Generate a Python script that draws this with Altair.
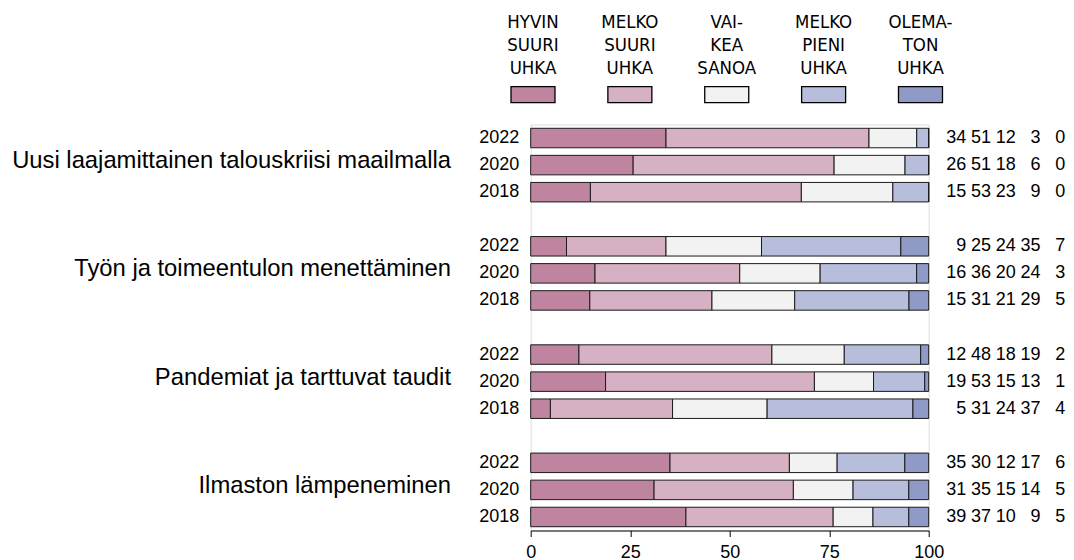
import altair as alt
import pandas as pd

topics = [
    "Uusi laajamittainen talouskriisi maailmalla",
    "Työn ja toimeentulon menettäminen",
    "Pandemiat ja tarttuvat taudit",
    "Ilmaston lämpeneminen",
]
years = ["2022", "2020", "2018"]
cats = ["HYVIN SUURI UHKA", "MELKO SUURI UHKA", "VAIKEA SANOA", "MELKO PIENI UHKA", "OLEMATON UHKA"]
cat_lines = ["HYVIN\nSUURI\nUHKA", "MELKO\nSUURI\nUHKA", "VAI-\nKEA\nSANOA", "MELKO\nPIENI\nUHKA", "OLEMA-\nTON\nUHKA"]
colors = ["#bf85a0", "#d6b0c3", "#f2f2f2", "#b7bedb", "#8f9ac7"]

# rows in order: topic x year (2022, 2020, 2018)
hyvin_suuri = [34, 26, 15, 9, 16, 15, 12, 19, 5, 35, 31, 39]
melko_suuri = [51, 51, 53, 25, 36, 31, 48, 53, 31, 30, 35, 37]
vaikea_sanoa = [12, 18, 23, 24, 20, 21, 18, 15, 24, 12, 15, 10]
melko_pieni = [3, 6, 9, 35, 24, 29, 19, 13, 37, 17, 14, 9]
olematon = [0, 0, 0, 7, 3, 5, 2, 1, 4, 6, 5, 5]
series = [hyvin_suuri, melko_suuri, vaikea_sanoa, melko_pieni, olematon]

rows = []
for gi, topic in enumerate(topics):
    for yi, yr in enumerate(years):
        idx = gi * 3 + yi
        key = f"{gi}|{yr}"
        for ci, (cat, arr) in enumerate(zip(cats, series)):
            rows.append(dict(key=key, topic=topic, year=yr, cat=cat, order=ci, value=arr[idx]))
df = pd.DataFrame(rows)

ydomain = []
for gi in range(len(topics)):
    ydomain += [f"{gi}|{yr}" for yr in years]
    if gi < len(topics) - 1:
        ydomain.append(f"gap{gi}")

yscale = alt.Scale(domain=ydomain, paddingInner=0.28, paddingOuter=0.14)
FONT = "Liberation Sans"

bars = alt.Chart(df).transform_joinaggregate(
    total="sum(value)", groupby=["key"]
).transform_calculate(
    pct="100*datum.value/datum.total"
).mark_bar(stroke="#1a1a1a", strokeWidth=1).encode(
    x=alt.X("pct:Q", stack="zero",
            scale=alt.Scale(domain=[0, 100], nice=False),
            axis=alt.Axis(values=[0, 25, 50, 75, 100], title=None, grid=False,
                          tickSize=6, labelPadding=7, labelFontSize=18,
                          domainColor="black", tickColor="black", labelColor="black",
                          labelFlush=False, domainWidth=1, tickWidth=1, labelFont=FONT)),
    y=alt.Y("key:N", scale=yscale, sort=ydomain,
            axis=alt.Axis(title=None, ticks=False, tickSize=0, domain=False,
                          labelExpr="indexof(datum.value,'|')>=0 ? split(datum.value,'|')[1] : ''",
                          labelFontSize=18, labelPadding=12, labelColor="black", labelFont=FONT)),
    color=alt.Color("cat:N", scale=alt.Scale(domain=cats, range=colors), legend=None),
    order=alt.Order("order:Q"),
)

topic_df = pd.DataFrame({"topic": topics, "key": [f"{gi}|2020" for gi in range(len(topics))]})
topic_labels = alt.Chart(topic_df).mark_text(
    align="right", baseline="middle", fontSize=23.8, font=FONT, color="black", dy=-4
).encode(
    x=alt.value(-79.7),
    y=alt.Y("key:N", scale=yscale, sort=ydomain),
    text="topic:N",
)

numbers = alt.Chart(df).mark_text(
    align="right", baseline="middle", fontSize=18, font=FONT, color="black"
).encode(
    x=alt.X("order:O", scale=alt.Scale(type="point", domain=[0, 1, 2, 3, 4], range=[435.5, 534.5], padding=0), axis=None),
    y=alt.Y("key:N", scale=yscale, sort=ydomain),
    text="value:Q",
)

leg_df = pd.DataFrame({"cat": cats, "label": cat_lines})
legend_x = alt.X("cat:N", scale=alt.Scale(type="point", domain=cats, range=[2.3, 389.8], padding=0), axis=None)
legend_sw = alt.Chart(leg_df).mark_point(
    shape="M-1,-0.3636L1,-0.3636L1,0.3636L-1,0.3636Z", size=1936, filled=True,
    stroke="black", strokeWidth=1.3, opacity=1
).encode(
    x=legend_x,
    y=alt.value(-29.8),
    fill=alt.Fill("cat:N", scale=alt.Scale(domain=cats, range=colors), legend=None),
)
legend_tx = alt.Chart(leg_df).mark_text(
    align="center", baseline="middle", fontSize=18.5, lineHeight=23,
    font="DejaVu Sans Condensed", lineBreak="\n", color="black"
).encode(
    x=legend_x,
    y=alt.value(-102.7),
    text="label:N",
)

chart = alt.layer(bars, topic_labels, numbers, legend_sw, legend_tx).resolve_scale(
    x="independent"
).properties(
    width=398, height=406,
    padding={"left": 522.7, "top": 116.5, "right": 137, "bottom": 30},
    autosize=alt.AutoSizeParams(type="none"),
).configure_view(strokeWidth=0).configure(font=FONT)

chart.save("out.html", embed_options={"renderer": "svg", "actions": False})
